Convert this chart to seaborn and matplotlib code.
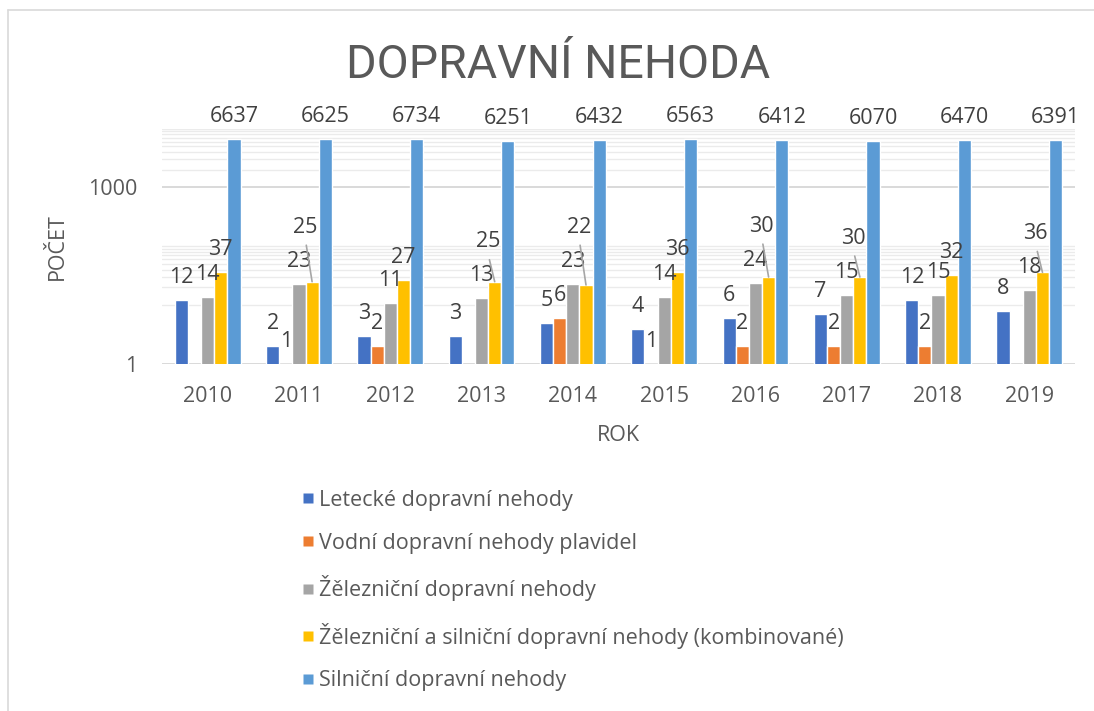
import numpy as np
import pandas as pd
import matplotlib
matplotlib.use("Agg")
import matplotlib.pyplot as plt
import seaborn as sns
from matplotlib import font_manager
from matplotlib.lines import Line2D
from matplotlib.ticker import NullFormatter, FixedLocator

# ---------------- data ----------------
years = ["2010", "2011", "2012", "2013", "2014", "2015", "2016", "2017", "2018", "2019"]
series_names = [
    "Letecké dopravní nehody",
    "Vodní dopravní nehody plavidel",
    "Žělezniční dopravní nehody",
    "Žělezniční a silniční dopravní nehody (kombinované)",
    "Silniční dopravní nehody",
]
letecke = [12, 2, 3, 3, 5, 4, 6, 7, 12, 8]
vodni = [np.nan, 1, 2, np.nan, 6, 1, 2, 2, 2, np.nan]
zeleznicni = [14, 23, 11, 13, 23, 14, 24, 15, 15, 18]
kombinovane = [37, 25, 27, 25, 22, 36, 30, 30, 32, 36]
silnicni = [6637, 6625, 6734, 6251, 6432, 6563, 6412, 6070, 6470, 6391]
series_values = [letecke, vodni, zeleznicni, kombinovane, silnicni]
colors = ["#4472C4", "#ED7D31", "#A5A5A5", "#FFC000", "#5B9BD5"]

y_major = [1, 1000]
y_minor = [10, 20, 30, 40, 50, 60, 70, 80, 90, 100,
           2000, 3000, 4000, 5000, 6000, 7000, 8000, 9000, 10000]

rows = []
for name, vals in zip(series_names, series_values):
    for yr, v in zip(years, vals):
        rows.append({"Rok": yr, "Série": name, "Počet": v})
df = pd.DataFrame(rows)

# ---------------- style ----------------
sns.set_theme(style="white")
avail = {f.name for f in font_manager.fontManager.ttflist}
plt.rcParams["font.family"] = ["Open Sans", "DejaVu Sans"]
if "Liberation Sans Narrow" in avail:
    title_family, title_size = ["Liberation Sans Narrow"], 35
else:
    title_family, title_size = ["Roboto", "Open Sans"], 33.5

TXT = "#595959"
LBL = "#404040"
FS = 15.5

W, H = 1094, 711
fig = plt.figure(figsize=(W / 100, H / 100), dpi=100)
fig.patch.set_facecolor("white")

ax_left, ax_right, ax_top, ax_bottom = 162, 1075, 128.5, 364
ax = fig.add_axes([ax_left / W, 1 - ax_bottom / H, (ax_right - ax_left) / W, (ax_bottom - ax_top) / H])

sns.barplot(data=df, x="Rok", y="Počet", hue="Série", hue_order=series_names,
            order=years, palette=colors, width=0.72, gap=0, errorbar=None,
            saturation=1, log_scale=True, legend=False, ax=ax)

ax.set_yscale("log")
ax.set_ylim(1, 10000)
ax.set_xlim(-0.5, len(years) - 0.5)
ax.yaxis.set_major_locator(FixedLocator(y_major))
ax.set_yticklabels([str(v) for v in y_major])
ax.yaxis.set_minor_locator(FixedLocator(y_minor))
ax.yaxis.set_minor_formatter(NullFormatter())
ax.grid(True, which="major", axis="y", color="#D9D9D9", lw=1.4)
ax.grid(True, which="minor", axis="y", color="#EBEBEB", lw=1.0)
ax.grid(False, axis="x")
ax.set_axisbelow(True)
for s in ax.spines.values():
    s.set_visible(False)
ax.tick_params(axis="y", which="both", length=0, pad=18, labelsize=FS, labelcolor=TXT)
ax.tick_params(axis="x", length=0, pad=16, labelsize=FS, labelcolor=TXT)
ax.set_xlabel("ROK", fontsize=FS, color=TXT, labelpad=13)
ax.set_ylabel("POČET", fontsize=FS, color=TXT, labelpad=14)

fig.text(558.5 / W, 1 - 65 / H, "DOPRAVNÍ NEHODA", ha="center", va="center",
         fontsize=title_size, family=title_family, color=TXT)

# ---------------- data labels ----------------
fig.canvas.draw()
renderer = fig.canvas.get_renderer()
pad = 12
stack_gap = 13
placed = {j: [] for j in range(len(years))}
for i, cont in enumerate(ax.containers):
    for patch in cont.patches:
        hgt = patch.get_height()
        if not np.isfinite(hgt):
            continue
        cx = patch.get_x() + patch.get_width() / 2
        j = int(round(cx))
        val = series_values[i][j]
        if val is None or not np.isfinite(val):
            continue
        txt = f"{int(val)}"
        xd, yd = ax.transData.transform((cx, max(val, 1)))
        tmp = ax.text(0, 0, txt, fontsize=FS)
        bb = tmp.get_window_extent(renderer)
        tmp.remove()
        w, h = bb.width, bb.height
        x0, x1 = xd - w / 2, xd + w / 2
        y0 = yd + pad
        dx = 0
        moved = True
        while moved:
            moved = False
            for (a0, a1, b0, b1) in placed[j]:
                if x0 < a1 - 1 and x1 > a0 + 1 and y0 < b1 - 2 and y0 + h > b0 + 2:
                    y0 = b1 + stack_gap
                    moved = True
        shifted = (y0 - yd) > pad + 6
        if shifted:
            dx = -7
        placed[j].append((x0 + dx, x1 + dx, y0, y0 + h))
        off = y0 - yd
        arrow = None
        if shifted:
            arrow = dict(arrowstyle="-", color="#A6A6A6", lw=1.2, shrinkA=3, shrinkB=0,
                         relpos=(0.5, 0.0))
        ax.annotate(txt, xy=(cx, max(val, 1)), xytext=(dx, off), textcoords="offset pixels",
                    ha="center", va="bottom", fontsize=FS, color=LBL,
                    arrowprops=arrow, annotation_clip=False)

# ---------------- legend ----------------
handles = [Line2D([], [], ls="none", marker="s", markersize=7.5, markerfacecolor=c,
                  markeredgecolor="none") for c in colors]
fig.legend(handles=handles, labels=series_names, loc="upper left",
           bbox_to_anchor=(300 / W, 1 - 490 / H), frameon=False, fontsize=FS,
           labelcolor=TXT, handlelength=0.7, handletextpad=0.2,
           labelspacing=1.0, borderpad=0, borderaxespad=0)

# chart border
fig.add_artist(Line2D([8 / W, 1], [1 - 10 / H, 1 - 10 / H], transform=fig.transFigure,
                      color="#D9D9D9", lw=1.2))
fig.add_artist(Line2D([8 / W, 8 / W], [0, 1 - 10 / H], transform=fig.transFigure,
                      color="#D9D9D9", lw=1.2))

fig.savefig("out.png", dpi=100, facecolor="white")
